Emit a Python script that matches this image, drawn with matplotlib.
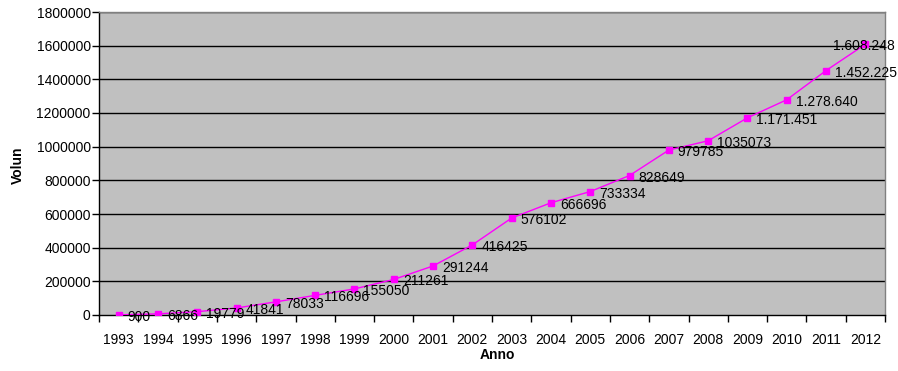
import matplotlib
matplotlib.use("Agg")
import matplotlib.pyplot as plt
import numpy as np

plt.rcParams['font.family'] = ['Liberation Sans', 'DejaVu Sans']

years = ['1993', '1994', '1995', '1996', '1997', '1998', '1999', '2000', '2001', '2002',
         '2003', '2004', '2005', '2006', '2007', '2008', '2009', '2010', '2011', '2012']
volumes = [900, 6866, 19779, 41841, 78033, 116696, 155050, 211261, 291244, 416425,
           576102, 666696, 733334, 828649, 979785, 1035073, 1171451, 1278640, 1452225, 1608248]
# from 2009 on the figures are written with thousand separators
dotted_from = 2009
yticks = np.arange(0, 1800001, 200000)


def fmt(year, v):
    if int(year) >= dotted_from:
        return f"{v:,}".replace(",", ".")
    return str(v)


fig = plt.figure(figsize=(8.98, 3.71), dpi=100)
ax = fig.add_axes([99 / 898, 56 / 371, 786 / 898, 303 / 371])
ax.set_facecolor('#C0C0C0')

x = np.arange(len(years))
ax.plot(x, volumes, color='#FF00FF', lw=1.0, marker='s', ms=5,
        mfc='#FF00FF', mec='#FF00FF', zorder=3)

for i, (yr, v) in enumerate(zip(years, volumes)):
    dx = -32 if i == len(years) - 1 else 9
    ax.annotate(fmt(yr, v), (i, v), xytext=(dx, -2), textcoords='offset pixels',
                ha='left', va='center', fontsize=10, color='black', zorder=4,
                annotation_clip=False)

ax.set_xlim(-0.5, len(years) - 0.5)
ax.set_ylim(0, 1800000)
ax.set_yticks(yticks)
ax.set_yticklabels([str(t) for t in yticks], fontsize=10)
ax.set_xticks(x)
ax.set_xticklabels(years, fontsize=10)
ax.set_xticks(np.arange(-0.5, len(years), 1), minor=True)
ax.tick_params(axis='x', which='major', length=0, pad=13)
ax.tick_params(axis='x', which='minor', length=5, width=1, color='black', direction='out')
ax.tick_params(axis='y', length=5, width=1, color='black', direction='out', pad=1)

for t in yticks[1:]:
    ax.axhline(t, color='black', lw=1.0, zorder=1)

for s in ['top', 'right']:
    ax.spines[s].set_color('#808080')
    ax.spines[s].set_linewidth(1.0)
for s in ['left', 'bottom']:
    ax.spines[s].set_color('black')
    ax.spines[s].set_linewidth(1.0)

fig.text(18 / 898, 1 - 165 / 371, 'Volun', rotation=90, ha='center', va='center',
         fontsize=10, fontweight='bold')
fig.text(497 / 898, 1 - 355 / 371, 'Anno', ha='center', va='center',
         fontsize=10, fontweight='bold')

fig.savefig('out.png', dpi=100, facecolor='white')
